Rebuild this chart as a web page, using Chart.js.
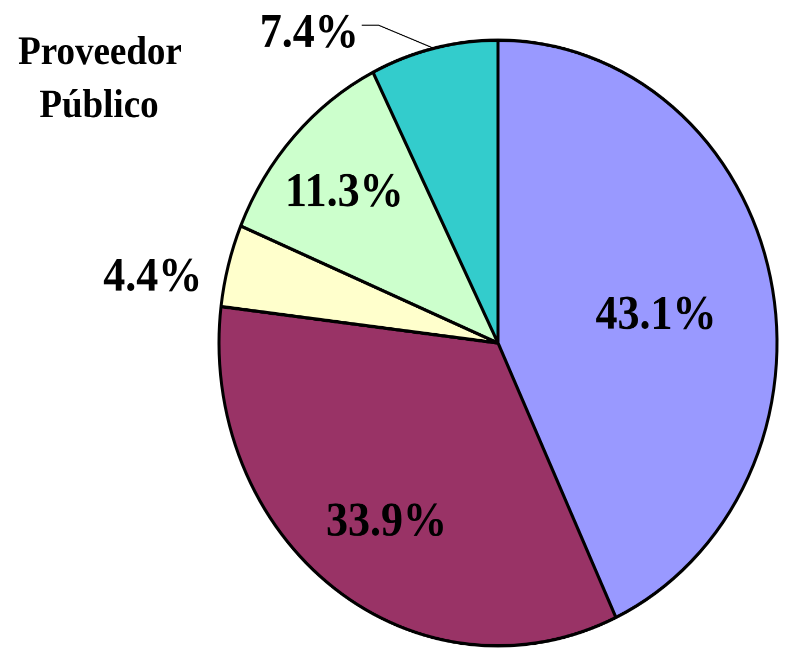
<!DOCTYPE html>
<html>
<head>
<meta charset="utf-8">
<script src="https://cdn.jsdelivr.net/npm/chart.js@4/dist/chart.umd.min.js"></script>
<style>
  html, body { margin: 0; padding: 0; background: #ffffff; }
  #c { display: block; }
</style>
</head>
<body>
<canvas id="c" width="812" height="597"></canvas>
<script>
// ---- data ----
const categories = ['A', 'B', 'C', 'D', 'E'];
const shares = [43.1, 33.9, 4.4, 11.3, 7.4];
const sliceColors = ['#9999FF', '#993366', '#FFFFCC', '#CCFFCC', '#33CCCC'];
const titleLines = ['Proveedor', 'Público'];
const pctLabels = shares.map(v => v.toFixed(1) + '%');

// ---- label placement (fraction of radius, angular offset in degrees) ----
const placements = [
  { f: 0.575, d: 2.4 },
  { f: 0.706, d: -1.5 },
  { f: 1.258, d: -4.5 },
  { f: 0.748, d: -0.5 },
  { f: 1.232, d: -20, leader: true }
];

const labelPlugin = {
  id: 'pctLabels',
  afterDatasetsDraw(chart) {
    const ctx = chart.ctx;
    const meta = chart.getDatasetMeta(0);
    ctx.save();
    ctx.fillStyle = '#000';
    ctx.strokeStyle = '#000';
    ctx.textAlign = 'center';
    ctx.textBaseline = 'alphabetic';
    ctx.font = 'bold 44px "Liberation Serif", "Times New Roman", serif';
    meta.data.forEach((arc, i) => {
      const p = placements[i];
      const mid = (arc.startAngle + arc.endAngle) / 2;
      const a = mid + p.d * Math.PI / 180;
      const r = arc.outerRadius * p.f;
      const x = arc.x + r * Math.cos(a);
      const y = arc.y + r * Math.sin(a);
      const txt = pctLabels[i];
      ctx.fillText(txt, x, y + 14.5);
      if (p.leader) {
        const w = ctx.measureText(txt).width;
        const ex = arc.x + arc.outerRadius * Math.cos(mid);
        const ey = arc.y + arc.outerRadius * Math.sin(mid);
        ctx.beginPath();
        ctx.lineWidth = 1;
        ctx.moveTo(x + w / 2 + 3, y - 5.5);
        ctx.lineTo(x + w / 2 + 20, y - 5.5);
        ctx.lineTo(ex, ey);
        ctx.stroke();
      }
    });
    ctx.font = 'bold 37px "Liberation Serif", "Times New Roman", serif';
    ctx.fillText(titleLines[0], 100, 59);
    ctx.fillText(titleLines[1], 99, 108);
    ctx.restore();
  }
};

const canvas = document.getElementById('c');
new Chart(canvas, {
  type: 'pie',
  data: {
    labels: categories,
    datasets: [{
      data: shares,
      backgroundColor: sliceColors,
      borderColor: '#000000',
      borderWidth: 3
    }]
  },
  options: {
    responsive: false,
    animation: false,
    devicePixelRatio: 2,
    radius: 279,
    layout: { padding: { left: 200, right: 16, top: 36, bottom: 1 } },
    plugins: {
      legend: { display: false },
      tooltip: { enabled: false },
      title: { display: false }
    }
  },
  plugins: [labelPlugin]
});
// the reference image is stretched vertically; stretch the rendered bitmap the same way
canvas.style.width = '812px';
canvas.style.height = '648px';
</script>
</body>
</html>
